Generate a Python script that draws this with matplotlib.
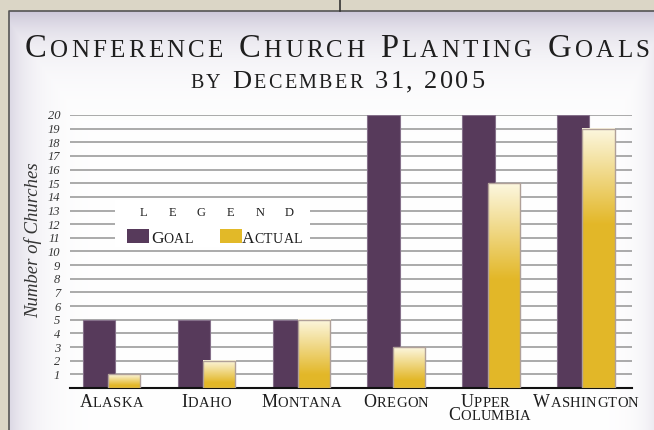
import matplotlib
matplotlib.use('Agg')
import matplotlib.pyplot as plt
import numpy as np
from matplotlib.patches import Rectangle

plt.rcParams['font.family'] = ['Liberation Serif', 'DejaVu Serif']

W, H = 654, 430

conferences = ['Alaska', 'Idaho', 'Montana', 'Oregon', 'Upper\nColumbia', 'Washington']
goal = [5, 5, 5, 20, 20, 20]
actual = [1, 2, 5, 3, 15, 19]
y_ticks = list(range(1, 21))

GOAL_COLOR = '#573a5b'
GOLD = np.array([0.89, 0.72, 0.16])
LIGHT = np.array([0.99, 0.97, 0.88])
TEXT = '#1e1e1e'


def px(x, y):
    # pixel position (from top left) to figure fraction
    return x / W, 1 - y / H


def draw_caps(fig, r, words, cx, base_y, big, small, width=None, gap=1.0, color=TEXT):
    # fake small caps: capital letters big, lower case letters small
    pieces = []
    for wi, w in enumerate(words.split(' ')):
        if wi:
            pieces.append(None)
        for ch in w:
            size = big if (ch.isupper() or not ch.isalpha()) else small
            pieces.append((ch.upper(), size))
    texts, widths = [], []
    for p in pieces:
        if p is None:
            texts.append(None)
            widths.append(big * 0.28 * 100 / 72)
        else:
            t = fig.text(0, 0, p[0], fontsize=p[1], va='baseline', ha='left', color=color)
            widths.append(t.get_window_extent(r).width)
            texts.append(t)
    n = len(pieces)
    natural = sum(widths) + gap * (n - 1)
    if width:
        gap += (width - natural) / (n - 1)
        natural = width
    x = cx - natural / 2
    for t, w in zip(texts, widths):
        if t is not None:
            t.set_position(px(x, base_y))
        x += w + gap


fig = plt.figure(figsize=(W / 100, H / 100), dpi=100)
r = fig.canvas.get_renderer()

# background panel
ax_bg = fig.add_axes([0, 0, 1, 1], zorder=-1)
yy, xx = np.mgrid[0:H, 0:W]
lav = np.array([0.80, 0.78, 0.85])
f = np.maximum(np.exp(-(yy - 11) / 30.0), 0.7 * np.exp(-(xx - 9) / 22.0))
f = np.maximum(f, 0.35 * np.exp(-(W - 1 - xx) / 15.0))
img = 1 - f[..., None] * (1 - lav)
img[(xx < 9) | (yy < 11)] = [0.86, 0.84, 0.78]
ax_bg.imshow(img, extent=(0, W, H, 0), aspect='auto')
ax_bg.plot([9, 9, W], [H, 11, 11], color='#555555', lw=1.2)
ax_bg.plot([340, 340], [0, 11], color='#333333', lw=1.2)
ax_bg.set_xlim(0, W)
ax_bg.set_ylim(H, 0)
ax_bg.axis('off')

# main chart
ax = fig.add_axes([70 / W, 42 / H, 562 / W, 273 / H])
ax.patch.set_visible(False)
x = np.arange(len(conferences))
bw = 0.34
off = 0.133
ax.bar(x - off, goal, bw, color=GOAL_COLOR, edgecolor='#85708a', lw=0.8, zorder=2)
for xi, h in zip(x + off, actual):
    n = 200
    d = (np.arange(n) + 0.5) / n * h
    L = min(0.8 * h, 7)
    t = np.clip(d / L, 0, 1)[:, None]
    grad = (LIGHT * (1 - t) + GOLD * t)[:, None, :]
    ax.imshow(grad, extent=(xi - bw / 2, xi + bw / 2, 0, h), origin='upper',
              aspect='auto', interpolation='bilinear', zorder=3)
ax.bar(x + off, actual, bw, facecolor='none', edgecolor='#b0a098', lw=1, zorder=4)

ax.set_xlim(-0.437, 5.485)
ax.set_ylim(0, 20)
ax.set_yticks(y_ticks)
ax.set_yticklabels([str(v) for v in y_ticks], fontstyle='italic', fontsize=9, color='#333333')
ax.tick_params(axis='y', length=0, pad=7)
ax.set_xticks([])
ax.set_axisbelow(True)
ax.yaxis.grid(True, color='#9c9c9c', lw=1.2)
for s in ['top', 'right', 'left']:
    ax.spines[s].set_visible(False)
ax.spines['bottom'].set_color('#111111')
ax.spines['bottom'].set_linewidth(1.5)

fig.text(*px(33, 240), 'Number of Churches', rotation=90, fontsize=13.5,
         fontstyle='italic', ha='center', va='center', color='#333333')

# titles
draw_caps(fig, r, 'Conference Church Planting Goals', 337, 57, 23.5, 18, width=625)
draw_caps(fig, r, 'by December 31, 2005', 337, 88, 19, 14.5, width=294)

# category labels
label_dx = [0, 0, 0, 0, -2, 0]
for xi, lab, dx in zip(x, conferences, label_dx):
    cx = ax.transData.transform((xi, 0))[0] + dx
    lines = lab.split('\n')
    for li, line in enumerate(lines):
        shift = -4 if (len(lines) > 1 and li == 0) else 0
        draw_caps(fig, r, line, cx + shift, 407 + li * 13, 13, 10.5, gap=0.3)

# legend
fig.add_artist(Rectangle(px(115, 247), 195 / W, 47 / H, transform=fig.transFigure,
                         facecolor='white', edgecolor='none', zorder=1))
for i, ch in enumerate('LEGEND'):
    fig.text(*px(143 + i * 29.2, 216), ch, fontsize=9, ha='center', va='baseline', color=TEXT)
fig.add_artist(Rectangle(px(127, 243), 22 / W, 14 / H, transform=fig.transFigure,
                         facecolor=GOAL_COLOR, edgecolor='none', zorder=2))
fig.add_artist(Rectangle(px(220, 243), 22 / W, 14 / H, transform=fig.transFigure,
                         facecolor='#e2b928', edgecolor='none', zorder=2))
draw_caps(fig, r, 'Goal', 172, 243, 12.5, 10, gap=0.4)
draw_caps(fig, r, 'Actual', 272, 243, 12.5, 10, gap=0.4)

fig.savefig('out.png', dpi=100)
